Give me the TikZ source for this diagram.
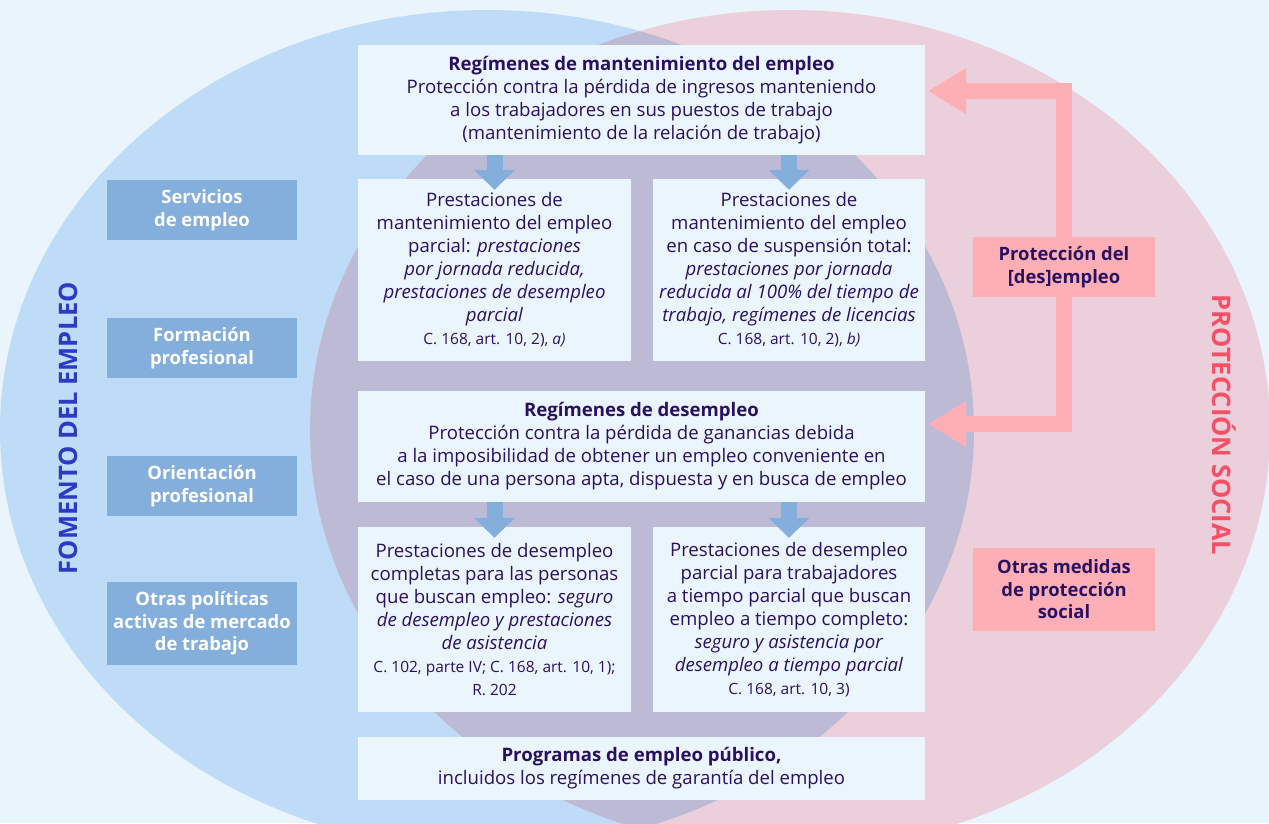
\documentclass[tikz,border=0pt]{standalone}
\usepackage{fontspec}
\setmainfont{Open Sans}
\usetikzlibrary{arrows.meta,positioning}
\definecolor{bg}{HTML}{EAF4FD}
\definecolor{fom}{HTML}{BEDCF8}
\definecolor{prot}{HTML}{EBCFDA}
\definecolor{both}{HTML}{BDBAD6}
\definecolor{cardbg}{HTML}{EBF5FE}
\definecolor{ink}{HTML}{2A1060}
\definecolor{fomdark}{HTML}{84AEDC}
\definecolor{protdark}{HTML}{FEAFB6}
\definecolor{fomtitle}{HTML}{2B3BC4}
\definecolor{prottitle}{HTML}{F64F66}
\newcommand{\refsize}{\fontsize{15.5}{19}\selectfont}
\tikzset{
  every picture/.style={x=1pt, y=-1pt},
  % Kaesten
  card/.style={fill=cardbg, text=ink, align=center, inner sep=0pt,
    font=\fontsize{18.6}{23}\selectfont},
  wide/.style={card, minimum width=567pt},
  half/.style={card, minimum width=273pt},
  fombox/.style={fill=fomdark, text=white, align=center, inner sep=0pt,
    minimum width=190pt, font=\fontsize{18.4}{22.5}\selectfont\bfseries},
  protbox/.style={fombox, fill=protdark, text=ink, minimum width=182pt},
  % Pfeile
  downarr/.style={fomdark, line width=16pt, -{Triangle[length=20pt,width=40pt]}},
  backarr/.style={protdark, line width=16pt, line join=miter,
    -{Triangle[length=38pt,width=43pt]}},
  bigtitle/.style={font=\fontsize{25.5}{29}\selectfont\bfseries},
}
\begin{document}
\begin{tikzpicture}
  \useasboundingbox (0,0) rectangle (1269,823);
  \fill[bg] (0,0) rectangle (1269,823);
  % Bereiche
  \begin{scope}
    \clip (0,0) rectangle (1269,823);
    \fill[fom] (487,430) ellipse (487 and 420);
    \fill[prot] (790,430) ellipse (480 and 420);
    \clip (487,430) ellipse (487 and 420);
    \fill[both] (790,430) ellipse (480 and 420);
  \end{scope}
  % Mitte
  \node[wide, minimum height=110pt] (mant) at (641.5,100) {{\bfseries Regímenes de mantenimiento del empleo}\\
    Protección contra la pérdida de ingresos manteniendo\\
    a los trabajadores en sus puestos de trabajo\\
    (mantenimiento de la relación de trabajo)};
  \node[half, minimum height=182pt] (parcial) at (494.5,270) {Prestaciones de\\
    mantenimiento del empleo\\
    parcial: \textit{prestaciones}\\
    \textit{por jornada reducida,}\\
    \textit{prestaciones de desempleo}\\
    \textit{parcial}\\
    {\refsize C. 168, art. 10, 2), \textit{a)}}};
  \node[half, minimum height=182pt, minimum width=272pt] (total) at (789,270) {Prestaciones de\\
    mantenimiento del empleo\\
    en caso de suspensión total:\\
    \textit{prestaciones por jornada}\\
    \textit{reducida al 100\% del tiempo de}\\
    \textit{trabajo, regímenes de licencias}\\
    {\refsize C. 168, art. 10, 2), \textit{b)}}};
  \node[wide, minimum height=111pt] (desemp) at (641.5,446.5) {{\bfseries Regímenes de desempleo}\\
    Protección contra la pérdida de ganancias debida\\
    a la imposibilidad de obtener un empleo conveniente en\\
    el caso de una persona apta, dispuesta y en busca de empleo};
  \node[half, minimum height=185pt] (completas) at (494.5,619.5) {Prestaciones de desempleo\\
    completas para las personas\\
    que buscan empleo: \textit{seguro}\\
    \textit{de desempleo y prestaciones}\\
    \textit{de asistencia}\\
    {\refsize C. 102, parte IV; C. 168, art. 10, 1);}\\
    {\refsize R. 202}};
  \node[half, minimum height=185pt, minimum width=272pt] (tparcial) at (789,619.5) {Prestaciones de desempleo\\
    parcial para trabajadores\\
    a tiempo parcial que buscan\\
    empleo a tiempo completo:\\
    \textit{seguro y asistencia por}\\
    \textit{desempleo a tiempo parcial}\\
    {\refsize C. 168, art. 10, 3)}};
  \node[wide, minimum height=63pt] (publico) at (641.5,768.5) {{\bfseries Programas de empleo público,}\\
    incluidos los regímenes de garantía del empleo};
  % Fomento
  \node[fombox, minimum height=60pt] (servicios) at (202,210) {Servicios\\ de empleo};
  \node[fombox, minimum height=60pt] (formacion) at (202,348) {Formación\\ profesional};
  \node[fombox, minimum height=60pt] (orientacion) at (202,486) {Orientación\\ profesional};
  \node[fombox, minimum height=83pt] (politicas) at (202,623.5) {Otras políticas\\ activas de mercado\\ de trabajo};
  % Proteccion
  \node[protbox, minimum height=60pt] (protdes) at (1064,267) {Protección del\\ {[des]empleo}};
  \node[protbox, minimum height=83pt] (otrasmed) at (1064,589.5) {Otras medidas\\ de protección\\ social};
  % Titel
  \node[bigtitle, fomtitle, rotate=90] (fomento) at (68,428) {FOMENTO DEL EMPLEO};
  \node[bigtitle, prottitle, rotate=-90] (proteccion) at (1224,425) {PROTECCIÓN SOCIAL};
  % Pfeile
  \draw[downarr] (mant.south -| parcial.north) -- ([yshift=-11pt]parcial.north);
  \draw[downarr] (mant.south -| total.north) -- ([yshift=-11pt]total.north);
  \draw[downarr] (desemp.south -| completas.north) -- ([yshift=-11pt]completas.north);
  \draw[downarr] (desemp.south -| tparcial.north) -- ([yshift=-11pt]tparcial.north);
  \coordinate (tipA) at (928,91);
  \coordinate (tipB) at (928,424);
  \draw[backarr] (protdes.north) |- (tipA);
  \draw[backarr] (protdes.south) |- (tipB);
\end{tikzpicture}
\end{document}
